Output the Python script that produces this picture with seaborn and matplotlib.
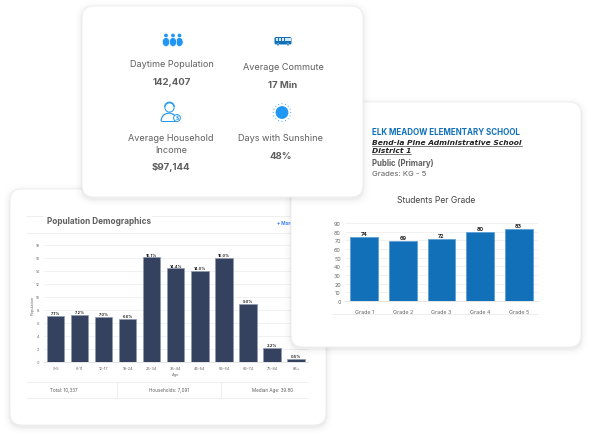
import numpy as np
import pandas as pd
import seaborn as sns
import matplotlib.pyplot as plt
from matplotlib.patches import FancyBboxPatch, Circle, Ellipse, Wedge

W, H = 591, 439

# chart values
age_groups = ['0-5', '6-11', '12-17', '18-24', '25-34', '35-44', '45-54', '55-64', '65-74', '75-84', '85+']
age_share = [7.1, 7.2, 7.0, 6.6, 16.1, 14.4, 14.0, 16.0, 9.0, 2.2, 0.5]
age_ticks = [0, 2, 4, 6, 8, 10, 12, 14, 16, 18]

grades = ['Grade 1', 'Grade 2', 'Grade 3', 'Grade 4', 'Grade 5']
students = [74, 69, 72, 80, 83]
grade_ticks = [0, 10, 20, 30, 40, 50, 60, 70, 80, 90]

NAVY = '#34425f'
BLUE = '#1170b8'
ICON = '#2196f3'
GREY = '#5f5f5f'

sns.set_theme(style='white')
plt.rcParams['font.family'] = ['Inter', 'DejaVu Sans']


def overlay(fig, z):
    # transparent axes in pixel coordinates, y going down
    ax = fig.add_axes([0, 0, 1, 1], zorder=z)
    ax.set_xlim(0, W)
    ax.set_ylim(H, 0)
    ax.axis('off')
    ax.patch.set_alpha(0)
    return ax


def card(ax, x0, y0, x1, y1, r=12):
    # soft shadow first, then the white card on top
    for grow, alpha in [(7, 0.006), (5, 0.009), (3.5, 0.012), (2, 0.018), (1, 0.025)]:
        ax.add_patch(FancyBboxPatch((x0 - grow, y0 - grow + 2), x1 - x0 + 2 * grow, y1 - y0 + 2 * grow,
                                    boxstyle='round,pad=0,rounding_size=%g' % (r + grow),
                                    fc='black', ec='none', alpha=alpha))
    ax.add_patch(FancyBboxPatch((x0, y0), x1 - x0, y1 - y0,
                                boxstyle='round,pad=0,rounding_size=%g' % r,
                                fc='white', ec='#ececec', lw=0.6))


def pixel_axes(fig, x0, y0, x1, y1, z):
    return fig.add_axes([x0 / W, 1 - y1 / H, (x1 - x0) / W, (y1 - y0) / H], zorder=z)


def bars(ax, labels, values, color, edge, ticks, tick_size, fmt, label_size, lw, xpad):
    df = pd.DataFrame({'cat': labels, 'val': values})
    sns.barplot(data=df, x='cat', y='val', ax=ax, color=color, saturation=1,
                width=0.72, edgecolor=edge, linewidth=lw, zorder=3)
    ax.set_xlim(-0.5, len(labels) - 0.5)
    ax.set_ylim(ticks[0], ticks[-1])
    ax.set_yticks(ticks)
    ax.patch.set_alpha(0)
    ax.yaxis.grid(True, color='#efefef', lw=0.6)
    ax.set_axisbelow(True)
    sns.despine(ax=ax, left=True, top=True, right=True, bottom=False)
    ax.spines['bottom'].set_color('#e4e4e4')
    ax.spines['bottom'].set_linewidth(0.7)
    ax.tick_params(axis='y', length=0, labelsize=tick_size, colors='#666666', pad=3)
    ax.tick_params(axis='x', length=0, labelsize=tick_size, colors='#666666', pad=xpad)
    ax.set_xlabel('')
    ax.set_ylabel('')
    for i, v in enumerate(values):
        ax.annotate(fmt % v, (i, v), xytext=(0, 0.6), textcoords='offset points', ha='center', va='bottom',
                    fontsize=label_size, fontweight='bold', color='#222222')


fig = plt.figure(figsize=(W / 100, H / 100), dpi=100, facecolor='white')

# left card
back = overlay(fig, 0)
card(back, 10, 190, 326, 426)
back.plot([26, 43], [217, 217], color='#eeeeee', lw=0.7)
back.plot([152, 308], [217, 217], color='#eeeeee', lw=0.7)
for y in (234, 383, 399):
    back.plot([26, 308], [y, y], color='#eeeeee', lw=0.7)
for x in (117, 221):
    back.plot([x, x], [383, 399], color='#eeeeee', lw=0.7)
back.text(47, 221.5, 'Population Demographics', fontsize=5.9, fontweight='bold', color=GREY, va='center')
back.text(277, 223.5, '+ More', fontsize=3.4, fontweight='bold', color='#3b82f6', va='center')
back.text(33, 305, 'Population', fontsize=2.8, color='#666666', rotation=90, ha='center', va='center')
back.text(176, 375, 'Age', fontsize=2.8, color='#666666', ha='center', va='center')
back.text(64, 390.5, 'Total: 10,337', fontsize=3.3, color=GREY, ha='center', va='center')
back.text(169, 390.5, 'Households: 7,091', fontsize=3.3, color=GREY, ha='center', va='center')
back.text(273, 390.5, 'Median Age: 39.80', fontsize=3.3, color=GREY, ha='center', va='center')

ax_age = pixel_axes(fig, 43.7, 246, 308, 363, 1)
bars(ax_age, age_groups, age_share, NAVY, '#8e99b0', age_ticks, 2.8, '%.1f%%', 2.8, 0.5, 2.8)

# right card
mid = overlay(fig, 2)
card(mid, 291, 103, 581, 348)
mid.text(372, 133, 'ELK MEADOW ELEMENTARY SCHOOL', fontsize=5.75, fontweight='bold', color=BLUE, va='center')
heavy = ['DejaVu Sans']
mid.text(372, 143, 'Bend-la Pine Administrative School', fontsize=5.4, fontweight='bold', style='italic',
         family=heavy, color='#222222', va='center')
mid.text(372, 151, 'District 1', fontsize=5.4, fontweight='bold', style='italic',
         family=heavy, color='#222222', va='center')
mid.plot([372, 522], [147, 147], color='#666666', lw=0.6)
mid.plot([372, 411], [154.5, 154.5], color='#666666', lw=0.6)
mid.text(372, 163.5, 'Public (Primary)', fontsize=5.7, fontweight='bold', color=GREY, va='center')
mid.text(372, 174, 'Grades: KG - 5', fontsize=5.6, color=GREY, va='center')
mid.text(436, 200.5, 'Students Per Grade', fontsize=6.2, color='#444444', ha='center', va='center')
mid.plot([332, 538], [315, 315], color='#eeeeee', lw=0.7)

ax_grade = pixel_axes(fig, 345, 224, 538, 302, 3)
bars(ax_grade, grades, students, BLUE, '#5ca0d8', grade_ticks, 3.9, '%d', 3.9, 0.6, 5.5)

# top card
top = overlay(fig, 4)
card(top, 82, 7, 363, 198)
label = dict(fontsize=6.55, color=GREY, ha='center', va='center')
value = dict(fontsize=6.9, fontweight='bold', color=GREY, ha='center', va='center')
top.text(172, 64.5, 'Daytime Population', **label)
top.text(172, 82.5, '142,407', **value)
top.text(283, 68, 'Average Commute', **label)
top.text(283, 85.5, '17 Min', **value)
top.text(171, 138.5, 'Average Household', **label)
top.text(171, 150.5, 'Income', **label)
top.text(171, 167.5, '$97,144', **value)
top.text(281, 138.5, 'Days with Sunshine', **label)
top.text(281, 156.5, '48%', **value)

# people icon
for x, rx in ((166, 3.6), (179.5, 3.6), (173, 3.6)):
    top.add_patch(Circle((x, 36.5), 1.9, fc=ICON, ec='none'))
    top.add_patch(Ellipse((x, 43), 2 * rx, 9, fc=ICON, ec='white', lw=0.4))
# bus icon
top.add_patch(FancyBboxPatch((274.5, 38), 17, 7.5, boxstyle='round,pad=0,rounding_size=1.6', fc=BLUE, ec='none'))
for x in np.arange(276, 289, 3.1):
    top.add_patch(FancyBboxPatch((x, 39.4), 2.2, 2.4, boxstyle='square,pad=0', fc='#d5e8f7', ec='none'))
for x in (278, 288):
    top.add_patch(Circle((x, 45.8), 1.1, fc=BLUE, ec='white', lw=0.3))
# income icon
top.add_patch(Circle((169.5, 108.5), 4.6, fc='white', ec=ICON, lw=0.7))
top.add_patch(Wedge((169.5, 108), 5.4, 180, 360, width=1.1, fc=ICON, ec='none'))
top.add_patch(Wedge((169, 122), 8.5, 180, 360, width=1.2, fc=ICON, ec='none'))
top.plot([161, 176], [122, 122], color=ICON, lw=0.7)
top.add_patch(Circle((177, 119), 3.4, fc='white', ec=ICON, lw=0.7))
top.text(177, 119, '$', fontsize=3.6, color=ICON, ha='center', va='center', fontweight='bold')
# sun icon
top.add_patch(Circle((282, 113.5), 6.4, fc=ICON, ec='none'))
for a in np.deg2rad(np.arange(0, 360, 22.5)):
    top.add_patch(Circle((282 + 8.8 * np.cos(a), 113.5 + 8.8 * np.sin(a)), 0.5, fc=ICON, ec='none'))

fig.savefig('out.png', dpi=100, facecolor='white')
plt.close(fig)
